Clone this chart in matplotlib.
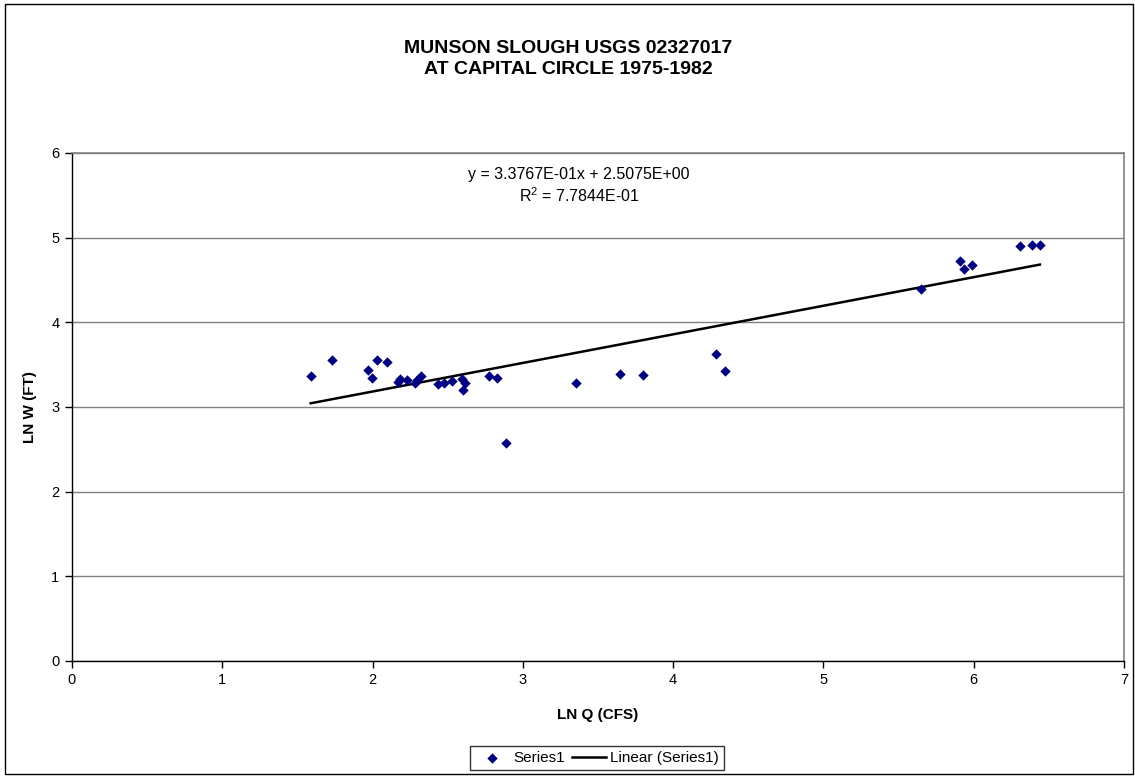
import matplotlib.pyplot as plt
from matplotlib.patches import Rectangle

plt.rcParams['font.family'] = ['Liberation Sans', 'DejaVu Sans']

# -------------------------------
# data
# -------------------------------
ln_q = [1.588, 1.731, 1.967, 1.994, 2.027, 2.096, 2.171, 2.182, 2.227, 2.282,
        2.293, 2.320, 2.436, 2.476, 2.530, 2.597, 2.615, 2.603, 2.774, 2.826,
        2.886, 3.353, 3.648, 3.801, 4.286, 4.347, 5.650, 5.908, 5.937, 5.986,
        6.305, 6.387, 6.440]
ln_w = [3.366, 3.555, 3.437, 3.346, 3.555, 3.528, 3.299, 3.331, 3.319, 3.283,
        3.319, 3.370, 3.272, 3.287, 3.311, 3.327, 3.287, 3.197, 3.366, 3.346,
        2.571, 3.287, 3.393, 3.378, 3.629, 3.422, 4.390, 4.724, 4.626, 4.677,
        4.898, 4.913, 4.913]

slope = 3.3767e-01
intercept = 2.5075e+00
r2 = 7.7844e-01

x_ticks = [0, 1, 2, 3, 4, 5, 6, 7]
y_ticks = [0, 1, 2, 3, 4, 5, 6]

# -------------------------------
# figure
# -------------------------------
fig = plt.figure(figsize=(11.35, 7.76), dpi=100)
W, H = 1135, 776
ax = fig.add_axes([72 / W, 1 - 661 / H, (1124 - 72) / W, (661 - 153) / H])

# outer chart border
fig.patches.append(Rectangle((5 / W, 2 / H), (1133 - 5) / W, (772 - 2) / H,
                             transform=fig.transFigure, fill=False,
                             edgecolor='black', linewidth=1))

ax.scatter(ln_q, ln_w, marker='D', s=28, color='#000080', zorder=3,
           label='Series1', linewidths=0)

x0, x1 = min(ln_q), max(ln_q)
ax.plot([x0, x1], [slope * x0 + intercept, slope * x1 + intercept],
        color='black', linewidth=1.8, zorder=2, label='Linear (Series1)')

ax.set_xlim(0, 7)
ax.set_ylim(0, 6)
ax.set_xticks(x_ticks)
ax.set_yticks(y_ticks)
ax.yaxis.grid(True, color='#808080', linewidth=1)
ax.set_axisbelow(True)
ax.tick_params(direction='out', length=5, width=1, labelsize=10.5, pad=4)

for side in ['top', 'right']:
    ax.spines[side].set_color('#808080')
    ax.spines[side].set_linewidth(1.2)
for side in ['left', 'bottom']:
    ax.spines[side].set_color('black')
    ax.spines[side].set_linewidth(1)

ax.set_xlabel('LN Q (CFS)', fontsize=11, fontweight='bold', labelpad=15)
ax.set_ylabel('LN W (FT)', fontsize=11, fontweight='bold', labelpad=10)

fig.text(568 / W, 1 - 59 / H, 'MUNSON SLOUGH USGS 02327017\nAT CAPITAL CIRCLE 1975-1982',
         ha='center', va='center', fontsize=14, fontweight='bold', linespacing=1.25)

ax.text(579 / W, 1 - 186 / H,
        'y = %.4Ex + %.4E\n$\\mathregular{R^2}$ = %.4E' % (slope, intercept, r2),
        transform=fig.transFigure, ha='center', va='center', fontsize=11.5,
        linespacing=1.3)

leg = fig.legend(loc='center', bbox_to_anchor=(597 / W, 1 - 758 / H), ncol=2,
                 frameon=True, fancybox=False, edgecolor='black', fontsize=11,
                 handlelength=2.2, handletextpad=0.3, columnspacing=0.5,
                 borderpad=0.3, scatterpoints=1)
leg.get_frame().set_linewidth(1)

fig.savefig('out.png', dpi=100)
